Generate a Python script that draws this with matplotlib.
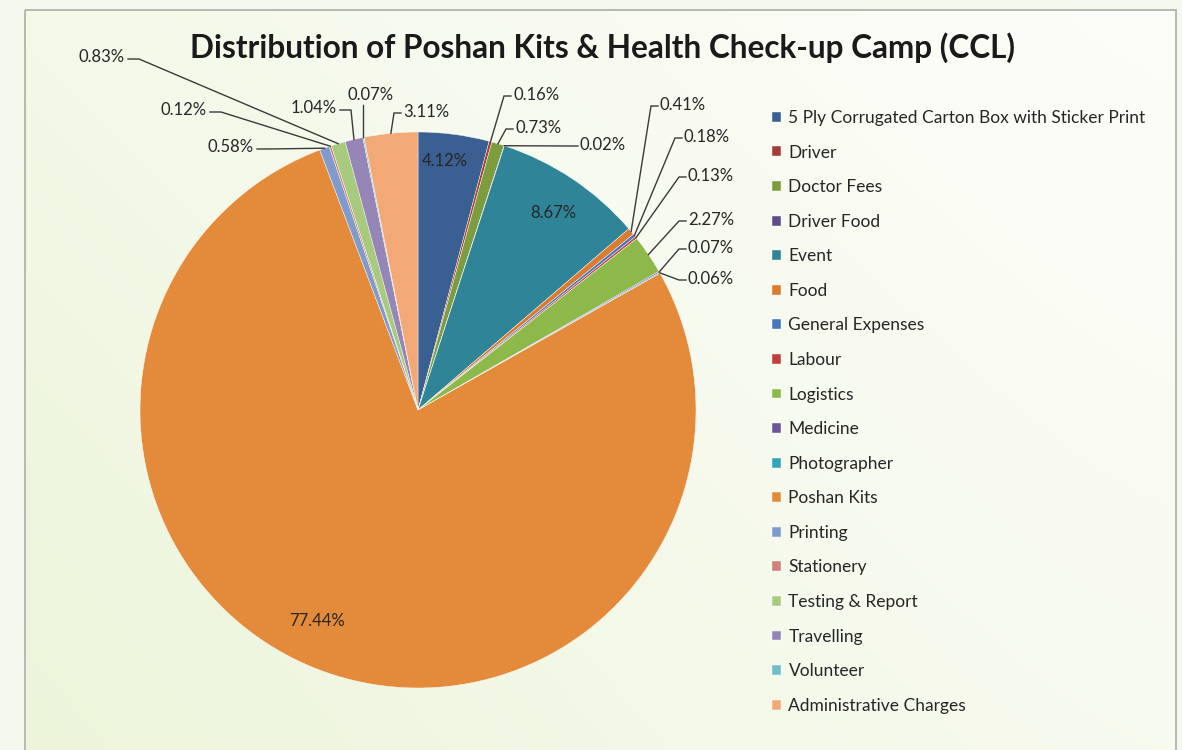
import numpy as np
import matplotlib.pyplot as plt
from matplotlib.patches import Rectangle

plt.rcParams['font.family'] = ['Lato', 'DejaVu Sans']

title = "Distribution of Poshan Kits & Health Check-up Camp (CCL)"
categories = ["5 Ply Corrugated Carton Box with Sticker Print", "Driver", "Doctor Fees",
              "Driver Food", "Event", "Food", "General Expenses", "Labour", "Logistics",
              "Medicine", "Photographer", "Poshan Kits", "Printing", "Stationery",
              "Testing & Report", "Travelling", "Volunteer", "Administrative Charges"]
shares = [4.12, 0.16, 0.73, 0.02, 8.67, 0.41, 0.18, 0.13, 2.27, 0.07, 0.06, 77.44,
          0.58, 0.12, 0.83, 1.04, 0.07, 3.11]
colors = ["#3A5F92", "#A63C36", "#7C9C3D", "#5F4B8B", "#2F8597", "#DA7B2E", "#4678B9",
          "#C23D3B", "#8DB84A", "#6C5498", "#33A4BA", "#E48B3B", "#7F9BCB", "#D0807D",
          "#A8CA7C", "#9686B7", "#70BDCA", "#F3A976"]

# where each data label goes:
#   ('in', radius, angle shift in degrees) -> inside the slice
#   (x, y, ha, side the leader leaves from) -> outside, in image pixels
label_layout = [
    ('in', 0.90, 1.2),
    (513, 95, 'left', 'left'),
    (515, 128, 'left', 'left'),
    (580, 145, 'left', 'left'),
    ('in', 0.86, -0.7),
    (660, 105, 'left', 'left'),
    (684, 137, 'left', 'left'),
    (688, 176, 'left', 'left'),
    (688, 220, 'left', 'left'),
    (688, 248, 'left', 'left'),
    (688, 279, 'left', 'left'),
    ('in', 0.84, -5.7),
    (254, 147, 'right', 'right'),
    (207, 110, 'right', 'right'),
    (125, 57, 'right', 'right'),
    (337, 108, 'right', 'right'),
    (371, 95, 'center', 'bottom'),
    (403, 112, 'left', 'left'),
]

W, H = 1182, 750
cx, cy, r = 418, 410, 278

fig = plt.figure(figsize=(W / 100, H / 100), dpi=100)
fig.patch.set_facecolor('#F5F8EE')

# background panel with soft green gradient
bg = fig.add_axes([0, 0, 1, 1], zorder=0)
bg.set_xlim(0, W)
bg.set_ylim(H, 0)
bg.axis('off')
gx, gy = np.meshgrid(np.linspace(0, 1, 300), np.linspace(0, 1, 200))
g = np.clip(0.85 * (1 - gx) ** 1.2 * (0.55 + 0.45 * gy) + 0.3 * gy * gx, 0, 1)
white = np.array([253, 253, 249]) / 255
green = np.array([233, 243, 212]) / 255
img = white * (1 - g[..., None]) + green * g[..., None]
bg.imshow(img, extent=[25, 1176, 752, 10], aspect='auto', interpolation='bilinear')
bg.add_patch(Rectangle((25, 10), 1151, 745, fill=False, edgecolor='#A9AFA4', lw=1.2))
bg.set_xlim(0, W)
bg.set_ylim(H, 0)

# pie
ax = fig.add_axes([(cx - r) / W, (H - cy - r) / H, 2 * r / W, 2 * r / H], zorder=1)
wedges, _ = ax.pie(shares, colors=colors, startangle=90, counterclock=False,
                   wedgeprops=dict(edgecolor='white', linewidth=0.3))
ax.set_xlim(-1, 1)
ax.set_ylim(-1, 1)
ax.set_aspect('equal')
ax.patch.set_visible(False)

# overlay for labels and leader lines, in image pixels
ov = fig.add_axes([0, 0, 1, 1], zorder=2)
ov.set_xlim(0, W)
ov.set_ylim(H, 0)
ov.axis('off')

lab_font = dict(fontsize=12, color='#262626')
for w, val, lay in zip(wedges, shares, label_layout):
    mid = np.deg2rad((w.theta1 + w.theta2) / 2)
    txt = f"{val:.2f}%"
    if lay[0] == 'in':
        _, rad, shift = lay
        a = mid + np.deg2rad(shift)
        px, py = ax.transData.transform((rad * np.cos(a), rad * np.sin(a)))
        ov.text(px, H - py, txt, ha='center', va='center', **lab_font)
        continue
    tx, ty, ha, side = lay
    ov.text(tx, ty, txt, ha=ha, va='center', **lab_font)
    ex, ey = ax.transData.transform((np.cos(mid), np.sin(mid)))
    ey = H - ey
    if side == 'left':
        xs = [tx - 2, tx - 9, ex]
        ys = [ty + 1, ty + 1, ey]
    elif side == 'right':
        xs = [tx + 3, tx + 14, ex]
        ys = [ty + 2, ty + 2, ey]
    else:
        xs = [ex, ex]
        ys = [ty + 10, ey]
    ov.plot(xs, ys, color='#3a3a3a', lw=1.0, solid_joinstyle='miter')

ov.text(602, 48, title, ha='center', va='center', fontsize=22.7, fontweight='bold',
        color='#1a1a1a')

leg = fig.legend(wedges, categories, loc='upper left',
                 bbox_to_anchor=(772 / W, 1 - 110 / H), frameon=False,
                 fontsize=12.5, handlelength=0.5, handleheight=0.5, handletextpad=0.45,
                 labelspacing=1.07, borderpad=0, borderaxespad=0, labelcolor='#262626')

fig.savefig("out.png", dpi=100)
